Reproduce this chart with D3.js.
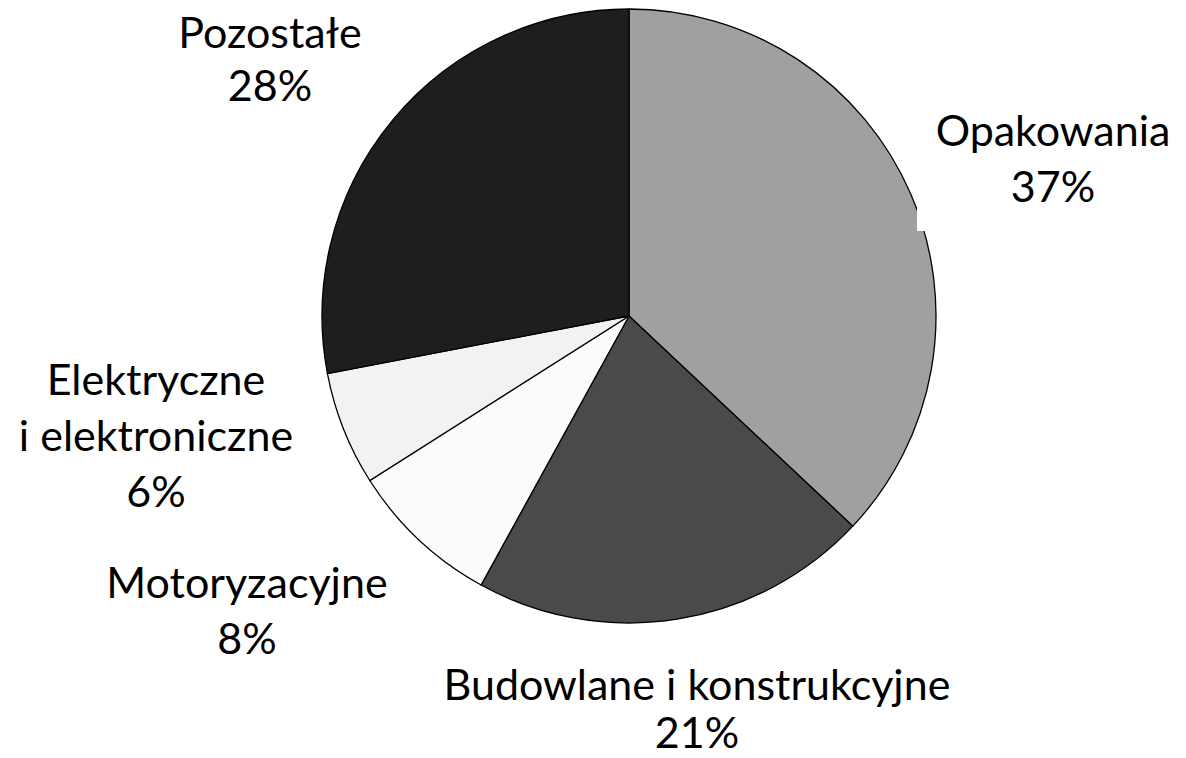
<!DOCTYPE html>
<html lang="pl">
  <head>
    <meta charset="UTF-8" />
    <title>Pie Chart</title>
    <style>
      body { margin: 0; background: #fff; }
      svg { display: block; }
      .label { font-family: Lato, "Open Sans", sans-serif; font-size: 43px; fill: #000; }
    </style>
  </head>
  <body>
    <script src="https://cdn.jsdelivr.net/npm/d3@7"></script>
    <script>

      // slice data, clockwise from 12 o'clock
      var categories = ["Opakowania", "Budowlane i konstrukcyjne", "Motoryzacyjne", "Elektryczne i elektroniczne", "Pozostałe"];
      var shares = [37, 21, 8, 6, 28];
      var fills = ["#a0a0a0", "#4a4a4a", "#fbfbfb", "#f2f2f2", "#1e1e1e"];

      // label lines as they are broken in the picture
      var labelLines = [
        ["Opakowania", "37%"],
        ["Budowlane i konstrukcyjne", "21%"],
        ["Motoryzacyjne", "8%"],
        ["Elektryczne", "i elektroniczne", "6%"],
        ["Pozostałe", "28%"]
      ];

      var w = 1186, h = 758;
      var cx = 629, cy = 316, radius = 307;

      var svg = d3.select("body")
                  .append("svg")
                  .attr("width", w)
                  .attr("height", h);

      var pie = d3.pie().sort(null).value(function(d) { return d; });
      var arc = d3.arc().innerRadius(0).outerRadius(radius);

      var g = svg.append("g")
                 .attr("transform", "translate(" + cx + "," + cy + ")");

      g.selectAll("path")
       .data(pie(shares))
       .enter()
       .append("path")
       .attr("d", arc)
       .attr("fill", function(d, i) { return fills[i]; })
       .attr("stroke", "#000")
       .attr("stroke-width", 1.3);

      // label anchors (center x, first baseline, line gap)
      var labelPos = [
        [1053, 146, 56],
        [697, 700, 48],
        [247, 598, 56],
        [156, 395, 56],
        [270, 48, 53]
      ];

      // white box behind the Opakowania label clips the pie edge a bit
      svg.append("rect")
         .attr("x", 917).attr("y", 100)
         .attr("width", 269).attr("height", 131)
         .attr("fill", "#fff");

      labelLines.forEach(function(lines, i) {
        var t = svg.append("text")
                   .attr("class", "label")
                   .attr("text-anchor", "middle")
                   .attr("x", labelPos[i][0])
                   .attr("y", labelPos[i][1]);
        lines.forEach(function(s, j) {
          t.append("tspan")
           .attr("x", labelPos[i][0])
           .attr("dy", j === 0 ? 0 : labelPos[i][2])
           .text(s);
        });
      });

    </script>
  </body>
</html>
